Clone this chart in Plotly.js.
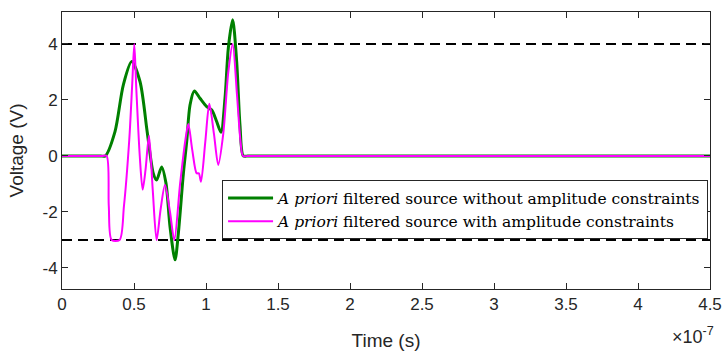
<!DOCTYPE html>
<html>
<head>
<meta charset="utf-8">
<script src="https://cdn.plot.ly/plotly-3.0.1.min.js"></script>
<style>html,body{margin:0;padding:0;background:#fff;}#chart{width:726px;height:359px;}</style>
</head>
<body>
<div id="chart"></div>
<script>
// Time in units of 1e-7 s
const timeGreen = [0, 0.24, 0.27, 0.30, 0.368, 0.426, 0.484, 0.542, 0.588, 0.599, 0.634, 0.657, 0.692, 0.722, 0.75, 0.785, 0.808, 0.843, 0.866, 0.889, 0.919, 0.958, 1.005, 1.04, 1.074, 1.104, 1.132, 1.155, 1.185, 1.213, 1.236, 1.259, 1.29, 1.32, 4.5];
const voltGreen = [0, 0, 0, 0, 0.87, 2.54, 3.37, 2.65, 1.0, 0.57, -0.62, -0.86, -0.39, -0.97, -2.52, -3.71, -2.76, -0.62, 0.51, 1.82, 2.32, 2.06, 1.76, 1.64, 1.23, 0.85, 2.06, 3.85, 4.86, 3.37, 1.1, 0, 0, 0, 0];

const timeMagenta = [0, 0.25, 0.28, 0.31, 0.325, 0.345, 0.40, 0.43, 0.467, 0.488, 0.502, 0.516, 0.54, 0.56, 0.58, 0.604, 0.63, 0.657, 0.685, 0.715, 0.75, 0.78, 0.82, 0.855, 0.877, 0.905, 0.935, 0.95, 0.965, 0.995, 1.023, 1.055, 1.085, 1.12, 1.155, 1.185, 1.215, 1.24, 1.257, 1.29, 1.32, 4.5];
const voltMagenta = [0, 0, 0, 0, -1.8, -3, -3, -1.8, 0.57, 2.6, 4, 2.4, 0.0, -1.2, -0.5, 0.72, -1.2, -3, -1.9, -1.04, -2.0, -3, -1.0, 0.5, 1.14, 0.2, -0.62, -0.62, -0.92, 0.5, 1.86, 0.8, -0.32, 0.8, 3.0, 4, 2.2, 0.5, 0, 0, 0, 0];

const limitTime = [0, 4.5];
const upperLimit = [4, 4];
const lowerLimit = [-3, -3];

const xTickVals = [0, 0.5, 1, 1.5, 2, 2.5, 3, 3.5, 4, 4.5];
const xTickText = ['0', '0.5', '1', '1.5', '2', '2.5', '3', '3.5', '4', '4.5'];
const yTickVals = [-4, -2, 0, 2, 4];
const yTickText = ['-4', '-2', '0', '2', '4'];

const nameGreen = '<i>A priori</i> filtered source without amplitude constraints';
const nameMagenta = '<i>A priori</i> filtered source with amplitude constraints';

const traces = [
  {x: limitTime, y: upperLimit, mode: 'lines', name: 'upper', line: {color: '#000', width: 2, dash: '10px,6px'}, showlegend: false, hoverinfo: 'skip'},
  {x: limitTime, y: lowerLimit, mode: 'lines', name: 'lower', line: {color: '#000', width: 2, dash: '10px,6px'}, showlegend: false, hoverinfo: 'skip'},
  {x: timeGreen, y: voltGreen, mode: 'lines', name: nameGreen, line: {color: '#008000', width: 3, shape: 'spline', smoothing: 0.8}},
  {x: timeMagenta, y: voltMagenta, mode: 'lines', name: nameMagenta, line: {color: '#ff00ff', width: 2, shape: 'spline', smoothing: 0.8}}
];

const axisCommon = {
  showline: true, linecolor: '#262626', linewidth: 1, mirror: 'ticks',
  ticks: 'inside', ticklen: 6, tickcolor: '#262626', tickwidth: 1,
  showgrid: false, zeroline: false,
  tickfont: {family: 'Liberation Sans, Arial, sans-serif', size: 17, color: '#262626'}
};

const layout = {
  width: 726, height: 359,
  margin: {l: 62, r: 16, t: 12, b: 70},
  paper_bgcolor: '#fff', plot_bgcolor: '#fff',
  xaxis: Object.assign({}, axisCommon, {
    range: [0, 4.5], tickvals: xTickVals, ticktext: xTickText,
    title: {text: 'Time (s)', font: {family: 'Liberation Sans, Arial, sans-serif', size: 19, color: '#262626'}, standoff: 20}
  }),
  yaxis: Object.assign({}, axisCommon, {
    range: [-4.75, 5.14], tickvals: yTickVals, ticktext: yTickText,
    title: {text: 'Voltage (V)', font: {family: 'Liberation Sans, Arial, sans-serif', size: 19, color: '#262626'}, standoff: 13}
  }),
  legend: {
    x: 0.247, xanchor: 'left', y: 0.392, yanchor: 'top',
    bgcolor: '#fff', bordercolor: '#262626', borderwidth: 1,
    font: {family: 'DejaVu Serif, serif', size: 15.5, color: '#000'},
    tracegroupgap: 0, itemwidth: 45
  },
  annotations: [
    {xref: 'paper', yref: 'paper', x: 1.01, y: -0.12, xanchor: 'right', yanchor: 'top', showarrow: false,
     text: '×10<sup>-7</sup>', font: {family: 'Liberation Sans, Arial, sans-serif', size: 18, color: '#262626'}}
  ]
};

Plotly.newPlot('chart', traces, layout, {displayModeBar: false, staticPlot: true});
</script>
</body>
</html>
